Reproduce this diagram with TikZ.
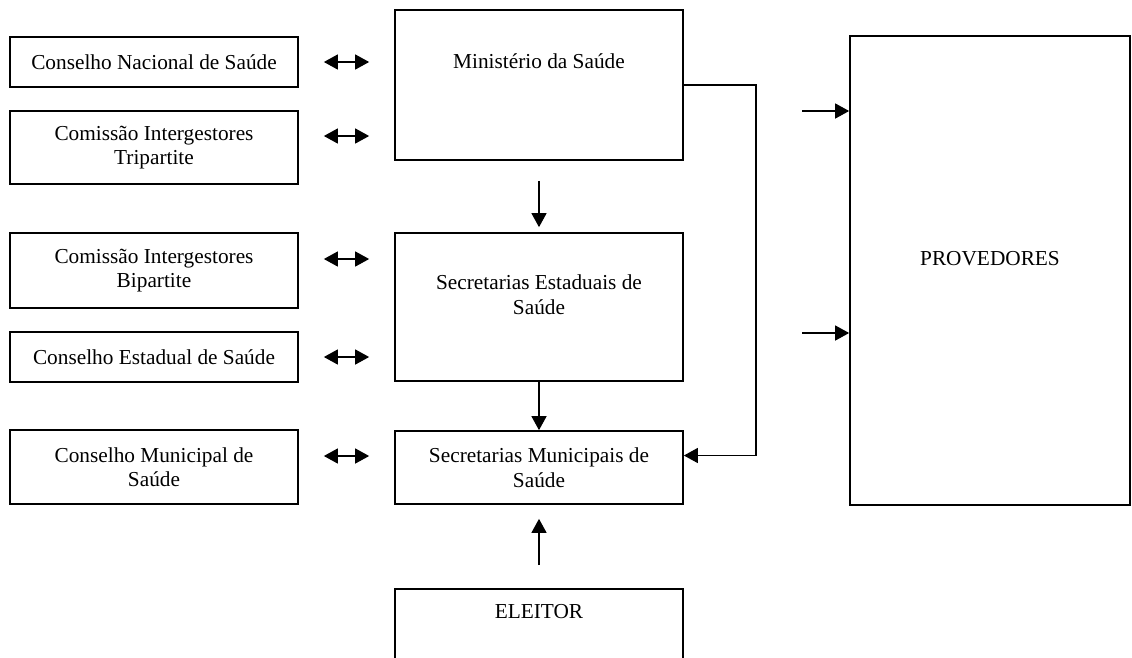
\documentclass[tikz,border=0pt]{standalone}
\usepackage{fontspec}
\setmainfont{Liberation Serif}
\usetikzlibrary{arrows.meta,positioning}

\begin{document}
\begin{tikzpicture}[x=1pt,y=-1pt,font=\fontsize{21.3}{24.5}\selectfont,
  box/.style={draw,line width=1.7pt,rectangle,inner sep=0pt,align=center,minimum width=288pt},
  lbl/.style={inner sep=0pt,align=center},
  arr/.style={line width=1.4pt,-{Triangle[length=14pt,width=15pt]}},
  dbl/.style={line width=1.4pt,{Triangle[length=14pt,width=15pt]}-{Triangle[length=14pt,width=15pt]},
    shorten <=25pt,shorten >=25pt}]
  \useasboundingbox (0,0) rectangle (1132,657);
  \clip (0,0) rectangle (1132,657);
  % councils and commissions
  \node[box,minimum height=50pt] (cns) at (154,62) {Conselho Nacional de Saúde};
  \node[box,minimum height=73pt] (cit) at (154,147.5) {Comissão Intergestores\\Tripartite};
  \node[box,minimum height=75pt] (cib) at (154,270.5) {Comissão Intergestores\\Bipartite};
  \node[box,minimum height=50pt] (ces) at (154,357) {Conselho Estadual de Saúde};
  \node[box,minimum height=74pt] (cms) at (154,467) {Conselho Municipal de\\Saúde};
  % government levels
  \node[box,minimum height=150pt] (ms) at (539,85) {};
  \node[lbl] (mst) at ([yshift=24pt]ms.center) {Ministério da Saúde};
  \node[box,minimum height=148pt] (ses) at (539,307) {};
  \node[lbl] (sest) at ([yshift=12.5pt]ses.center) {Secretarias Estaduais de\\Saúde};
  \node[box,minimum height=73pt] (sms) at (539,467.5) {Secretarias Municipais de\\Saúde};
  \node[box,minimum height=150pt,anchor=north] (el) at (539,588) {};
  \node[lbl] (elt) at ([yshift=-24pt]el.north) {ELEITOR};
  \node[box,minimum width=280pt,minimum height=469pt] (prov) at (990,270.5) {};
  \node[lbl] (provt) at ([yshift=11.5pt]prov.center) {PROVEDORES};
  % connectors
  \foreach \a/\b/\s in {cns/ms/0,cit/ms/11.5,cib/ses/11.5,ces/ses/0,cms/sms/11}{
    \coordinate (l) at ([yshift=\s pt]\a.east);
    \draw[dbl] (l) -- (l -| \b.west);}
  \draw[arr,shorten <=20pt,shorten >=5pt] (ms) -- (ses);
  \draw[arr] (ses) -- (sms);
  \draw[arr,shorten <=23pt,shorten >=14pt] (el) -- (sms);
  \draw[arr] (ms.east) -- ++(72,0) |- ([yshift=12pt]sms.east);
  \coordinate (p1) at (802,111);
  \coordinate (p2) at (802,333);
  \foreach \p in {p1,p2}
    \draw[arr] (\p) -- (\p -| prov.west);
\end{tikzpicture}
\end{document}
